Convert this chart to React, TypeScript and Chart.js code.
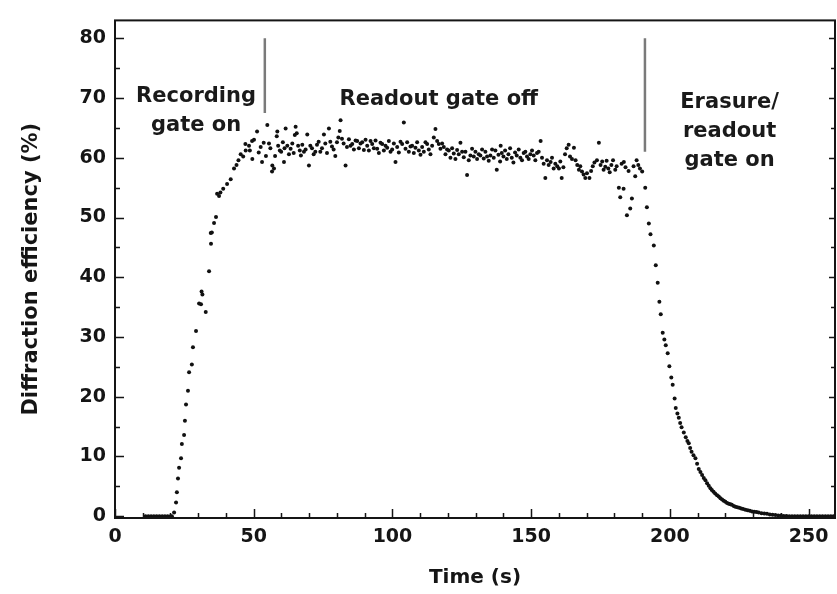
import { useEffect, useRef } from 'react';
import { Chart, registerables } from 'chart.js';

Chart.register(...registerables);

// ---- data: [time (s), diffraction efficiency (%)] ----
const baselinePoints = [
  [11, 0], [12, 0], [13, 0], [14, 0], [15, 0], [16, 0], [17, 0], [18, 0], [19, 0], [20, 0],
];

const risePoints = [
  [20.5, 0], [21.3, 0.6], [22.0, 2.3], [22.3, 4.0], [22.7, 6.3], [23.1, 8.1], [23.8, 9.7],
  [24.1, 12.1], [24.9, 13.6], [25.2, 16.0], [25.6, 18.7], [26.3, 21.0], [26.7, 24.1],
  [27.7, 25.4], [28.1, 28.3], [29.2, 31.0], [30.3, 35.6], [31.0, 35.5], [31.2, 37.6],
  [31.5, 37.1], [32.7, 34.2], [33.9, 41.0], [34.5, 47.4], [34.6, 45.6], [34.9, 47.5],
  [35.7, 49.1], [36.4, 50.1], [36.8, 54.0], [37.5, 53.6], [38.0, 54.2], [39.0, 54.8],
  [40.4, 55.6], [41.7, 56.4], [42.9, 58.2], [43.8, 58.8], [44.5, 59.6], [45.3, 60.6],
  [46.2, 60.2], [47.0, 62.3], [47.1, 61.2], [48.3, 62.0], [48.6, 61.2], [49.4, 62.8],
  [49.5, 59.8], [50.1, 63.0], [51.2, 64.4], [51.8, 60.9], [52.5, 61.8], [53.0, 59.3],
  [53.6, 62.5], [54.4, 60.3], [54.9, 65.5],
];

const plateauPoints = [
  [55.5, 62.4], [56.0, 61.6], [56.6, 57.7], [56.7, 58.7], [57.3, 58.2], [57.7, 60.3], [58.3, 63.6],
  [58.5, 64.4], [58.8, 62.0], [59.4, 61.2], [59.9, 61.0], [60.5, 62.6],
  [60.9, 59.3], [61.1, 61.6], [61.5, 64.9], [62.1, 62.0], [62.7, 60.6], [63.3, 61.5], [63.9, 62.4],
  [64.4, 60.8], [64.8, 63.8], [65.1, 65.2],
  [65.5, 64.1], [66.0, 62.0], [66.6, 61.2], [67.0, 60.4], [67.5, 62.2], [68.1, 61.0], [68.7, 61.4],
  [69.3, 63.9], [69.9, 58.7], [70.4, 62.0],
  [71.0, 61.6], [71.6, 60.6], [72.2, 61.0], [72.8, 62.2], [73.4, 62.7], [74.0, 61.0], [74.6, 61.6],
  [75.3, 63.9], [75.8, 62.4],
  [76.4, 60.8], [77.1, 64.9], [77.6, 62.7], [78.2, 61.9], [78.8, 61.4], [79.4, 60.3], [80.0, 62.6],
  [80.5, 63.4],
  [81.0, 64.5], [81.3, 66.3], [81.8, 63.2], [82.4, 62.4], [83.1, 58.7], [83.6, 61.8], [84.3, 63.1],
  [84.9, 62.0],
  [85.5, 62.3], [86.1, 61.4], [86.7, 62.9], [87.3, 62.8], [87.9, 61.6], [88.5, 62.4], [89.1, 62.6],
  [89.7, 61.3], [90.3, 63.0],
  [90.9, 62.0], [91.5, 61.2], [92.1, 62.8], [92.7, 62.3], [93.3, 61.6], [93.9, 62.9], [94.5, 61.5],
  [95.1, 60.8], [95.7, 62.5],
  [96.3, 62.3], [96.9, 61.2], [97.5, 62.0], [98.1, 61.7], [98.7, 62.8], [99.3, 61.0], [99.9, 61.4],
  [100.5, 62.4],
  [101.1, 59.3], [101.7, 61.8], [102.3, 60.9], [102.9, 62.7], [103.5, 62.3], [104.1, 65.9], [104.7, 61.5],
  [105.3, 62.6], [105.9, 61.0], [106.5, 61.9], [107.1, 62.0], [107.7, 60.8], [108.3, 61.7], [108.9, 62.6],
  [109.5, 61.2], [110.1, 60.5],
  [110.7, 61.8], [111.3, 61.0], [111.9, 62.6], [112.5, 62.3], [113.1, 61.4], [113.7, 60.6], [114.3, 62.0],
  [114.9, 63.4], [115.5, 64.8],
  [116.1, 62.8], [116.7, 62.3], [117.3, 61.5], [117.9, 62.4], [118.5, 61.8], [119.1, 60.6], [119.7, 61.4],
  [120.3, 61.2],
  [120.9, 60.0], [121.5, 61.6], [122.1, 60.7], [122.7, 59.8], [123.3, 61.3], [123.9, 60.6], [124.5, 62.5],
  [125.1, 61.0],
  [125.7, 60.1], [126.3, 61.0], [126.9, 57.1], [127.5, 59.6], [128.1, 60.4], [128.7, 61.5], [129.3, 60.2],
  [129.9, 61.0],
  [130.5, 59.8], [131.1, 60.6], [131.7, 60.4], [132.3, 61.4], [132.9, 59.9], [133.5, 61.0], [134.1, 60.2],
  [134.7, 59.5],
  [135.3, 60.4], [135.9, 61.4], [136.5, 60.0], [137.1, 61.2], [137.6, 58.0], [138.2, 60.5], [138.8, 59.4],
  [139.0, 62.0], [139.4, 60.8],
  [140.0, 60.2], [140.6, 61.2], [141.2, 59.8], [141.8, 60.6], [142.4, 61.6], [143.0, 60.0], [143.6, 59.2],
  [144.2, 60.9], [144.8, 60.4],
  [145.5, 61.4], [146.1, 60.0], [146.7, 59.6], [147.3, 60.8], [147.9, 61.0], [148.5, 60.2], [149.1, 59.8],
  [149.7, 60.6],
  [150.3, 61.2], [150.9, 60.4], [151.5, 59.6], [152.1, 60.8], [152.7, 61.0], [153.4, 62.8], [153.9, 60.0],
  [154.5, 59.0], [155.1, 56.6],
  [155.7, 59.6], [156.3, 58.8], [157.0, 59.3], [157.5, 60.0], [158.1, 58.2], [158.7, 59.0], [159.4, 58.6],
  [160.0, 58.2],
  [160.5, 59.4], [161.0, 56.6], [161.6, 58.4], [162.2, 60.6], [162.8, 61.6], [163.5, 62.2], [164.0, 60.2],
  [164.7, 59.8], [165.4, 61.7],
  [166.0, 59.6], [166.6, 58.8], [167.2, 58.0], [167.7, 58.6], [168.3, 57.7], [168.9, 57.2], [169.5, 56.6],
  [170.1, 57.4],
  [171.0, 56.6], [171.6, 57.8], [172.2, 58.6], [172.8, 59.2], [173.7, 59.6], [174.4, 62.5], [175.0, 58.8],
  [175.6, 59.4],
  [176.1, 58.0], [176.7, 58.5], [177.2, 59.5], [177.8, 58.2], [178.3, 57.6], [178.9, 58.8], [179.5, 59.6],
  [180.3, 58.0],
  [180.8, 58.6], [181.6, 55.0], [182.1, 53.4], [182.6, 59.0], [183.3, 54.8], [183.4, 59.3], [184.0, 58.4],
  [184.5, 50.4], [185.1, 57.8], [185.7, 51.5],
  [186.3, 53.2], [186.9, 58.6], [187.5, 56.9], [188.0, 59.6], [188.6, 58.8], [189.2, 58.2], [190.0, 57.7],
];

const decayPoints = [
  [191.1, 55.0], [191.7, 51.7], [192.4, 49.0], [193.0, 47.2], [194.2, 45.3], [194.9, 42.0], [195.6, 39.1],
  [196.2, 35.9], [196.7, 33.8], [197.4, 30.7], [198.0, 29.6], [198.5, 28.6], [199.2, 27.3], [199.8, 25.1],
  [200.5, 23.2], [201.0, 22.0], [201.7, 19.7], [202.1, 18.1], [202.7, 17.2], [203.2, 16.5], [203.7, 15.6],
  [204.2, 14.9], [205.0, 14.0], [205.7, 13.2], [206.3, 12.6], [206.8, 12.2], [207.3, 11.4], [207.8, 10.8],
  [208.5, 10.2], [209.2, 9.7], [209.8, 8.8], [210.4, 7.9], [211.0, 7.4], [211.6, 6.9], [212.2, 6.4],
  [212.8, 6.0], [213.4, 5.5], [214.0, 5.1], [214.6, 4.7], [215.1, 4.4], [215.7, 4.1], [216.3, 3.8],
  [217.0, 3.5], [217.6, 3.3], [218.2, 3.0], [218.8, 2.8], [219.4, 2.6], [220.0, 2.4], [220.6, 2.2],
  [221.2, 2.1], [221.8, 2.0], [222.3, 1.9], [223.0, 1.7], [223.6, 1.6], [224.3, 1.5], [225.0, 1.4],
  [225.7, 1.3], [226.4, 1.2], [227.2, 1.1], [228.0, 1.0], [228.8, 0.9], [229.6, 0.8], [230.4, 0.75],
  [231.2, 0.7], [232.0, 0.6], [233.0, 0.5], [234.0, 0.45], [235.0, 0.4], [236.0, 0.3], [237.0, 0.25],
  [238.0, 0.2], [239.0, 0.1], [240.0, 0.1], [241.0, 0.05], [242.0, 0.05], [243.0, 0], [244.0, 0],
  [245.0, 0], [246.0, 0], [247.0, 0], [248.0, 0], [249.0, 0], [250.0, 0], [251.0, 0], [252.0, 0],
  [253.0, 0], [254.0, 0], [255.0, 0], [256.0, 0], [257.0, 0], [258.0, 0], [259.0, 0],
];

// gate markers (time, top value, bottom value)
const gateTimes = [54, 191];
const gateTops = [80, 80];
const gateBottoms = [67.5, 61];

// axis ticks
const xTickValues = [0, 50, 100, 150, 200, 250];
const yTickValues = [0, 10, 20, 30, 40, 50, 60, 70, 80];
const xMinorTickValues = [10, 20, 30, 40, 60, 70, 80, 90, 110, 120, 130, 140, 160, 170, 180, 190, 210, 220, 230, 240];
const yMinorTickValues = [5, 15, 25, 35, 45, 55, 65, 75];

// annotation text
const annotationTexts = [
  ['Recording', 'gate on'],
  ['Readout gate off'],
  ['Erasure/', 'readout', 'gate on'],
];

const FONT = '"DejaVu Sans", "Liberation Sans", Arial, sans-serif';

export default function App() {
  const canvasRef = useRef<HTMLCanvasElement | null>(null);

  useEffect(() => {
    const canvas = canvasRef.current;
    if (!canvas) return;

    const allPoints = [...baselinePoints, ...risePoints, ...plateauPoints, ...decayPoints].map(
      ([t, v]) => ({ x: t, y: v })
    );

    const annotationAnchors = [
      { t: 29.2, v: 70.3 },
      { t: 116.7, v: 69.8 },
      { t: 221.5, v: 69.3 },
    ];

    const framePlugin = {
      id: 'frameAndTicks',
      afterDatasetsDraw(chart: any) {
        const { ctx, chartArea, scales } = chart;
        const { left, right, top, bottom } = chartArea;
        const xs = scales.x;
        const ys = scales.y;
        ctx.save();
        ctx.strokeStyle = '#151515';
        ctx.lineWidth = 2;
        ctx.strokeRect(left, top, right - left, bottom - top);
        ctx.lineWidth = 1.5;
        ctx.beginPath();
        xTickValues.forEach((v) => {
          const px = Math.round(xs.getPixelForValue(v)) + 0.5;
          ctx.moveTo(px, bottom);
          ctx.lineTo(px, bottom - 9);
        });
        xMinorTickValues.forEach((v) => {
          const px = Math.round(xs.getPixelForValue(v)) + 0.5;
          ctx.moveTo(px, bottom);
          ctx.lineTo(px, bottom - 5);
        });
        yTickValues.forEach((v) => {
          const py = Math.round(ys.getPixelForValue(v)) + 0.5;
          ctx.moveTo(left, py);
          ctx.lineTo(left + 9, py);
          ctx.moveTo(right, py);
          ctx.lineTo(right - 6, py);
        });
        yMinorTickValues.forEach((v) => {
          const py = Math.round(ys.getPixelForValue(v)) + 0.5;
          ctx.moveTo(left, py);
          ctx.lineTo(left + 5, py);
          ctx.moveTo(right, py);
          ctx.lineTo(right - 4, py);
        });
        ctx.stroke();

        // annotations
        ctx.fillStyle = '#1a1a1a';
        ctx.font = `bold 21px ${FONT}`;
        ctx.textAlign = 'center';
        ctx.textBaseline = 'middle';
        annotationTexts.forEach((lines, i) => {
          const a = annotationAnchors[i];
          const cx = xs.getPixelForValue(a.t);
          const cy = ys.getPixelForValue(a.v);
          lines.forEach((line, j) => {
            ctx.fillText(line, cx, cy + j * 29);
          });
        });
        ctx.restore();
      },
    };

    const gateDatasets = gateTimes.map((t, i) => ({
      type: 'line' as const,
      data: [
        { x: t, y: gateTops[i] },
        { x: t, y: gateBottoms[i] },
      ],
      borderColor: '#7a7a7a',
      borderWidth: 2.5,
      pointRadius: 0,
      showLine: true,
      fill: false,
    }));

    const chart = new Chart(canvas, {
      type: 'scatter',
      data: {
        datasets: [
          ...gateDatasets,
          {
            type: 'scatter' as const,
            data: allPoints,
            pointRadius: 2,
            pointHoverRadius: 2,
            backgroundColor: '#111',
            borderWidth: 0,
            showLine: false,
          },
        ] as any,
      },
      options: {
        animation: false,
        responsive: false,
        devicePixelRatio: 1,
        layout: { padding: { top: 4, right: 1, bottom: 0, left: 0 } },
        plugins: {
          legend: { display: false },
          tooltip: { enabled: false },
        },
        scales: {
          x: {
            type: 'linear',
            min: 0,
            max: 259.5,
            grid: { display: false, drawTicks: false },
            border: { display: false },
            afterBuildTicks: (scale: any) => {
              scale.ticks = xTickValues.map((v) => ({ value: v }));
            },
            afterFit: (scale: any) => {
              scale.height = 76;
            },
            ticks: {
              padding: 8,
              color: '#151515',
              font: { family: FONT, size: 19, weight: 'bold' },
              maxRotation: 0,
              autoSkip: false,
            },
            title: {
              display: true,
              text: 'Time (s)',
              color: '#151515',
              font: { family: FONT, size: 20, weight: 'bold' },
              padding: { top: 0, bottom: 4 },
            },
          },
          y: {
            type: 'linear',
            min: -0.3,
            max: 83,
            grid: { display: false, drawTicks: false },
            border: { display: false },
            afterBuildTicks: (scale: any) => {
              scale.ticks = yTickValues.map((v) => ({ value: v }));
            },
            afterFit: (scale: any) => {
              scale.width = 115;
            },
            ticks: {
              padding: 9,
              color: '#151515',
              font: { family: FONT, size: 19, weight: 'bold' },
              autoSkip: false,
            },
            title: {
              display: true,
              text: 'Diffraction efficiency (%)',
              color: '#151515',
              font: { family: FONT, size: 21, weight: 'bold' },
              padding: { top: 19, bottom: 0 },
            },
          },
        },
      } as any,
      plugins: [framePlugin],
    });

    return () => {
      chart.destroy();
    };
  }, []);

  return (
    <div style={{ position: 'fixed', left: 0, top: 0, width: 837, height: 594, background: '#fff' }}>
      <canvas ref={canvasRef} width={837} height={594} style={{ display: 'block', width: 837, height: 594 }} />
    </div>
  );
}
